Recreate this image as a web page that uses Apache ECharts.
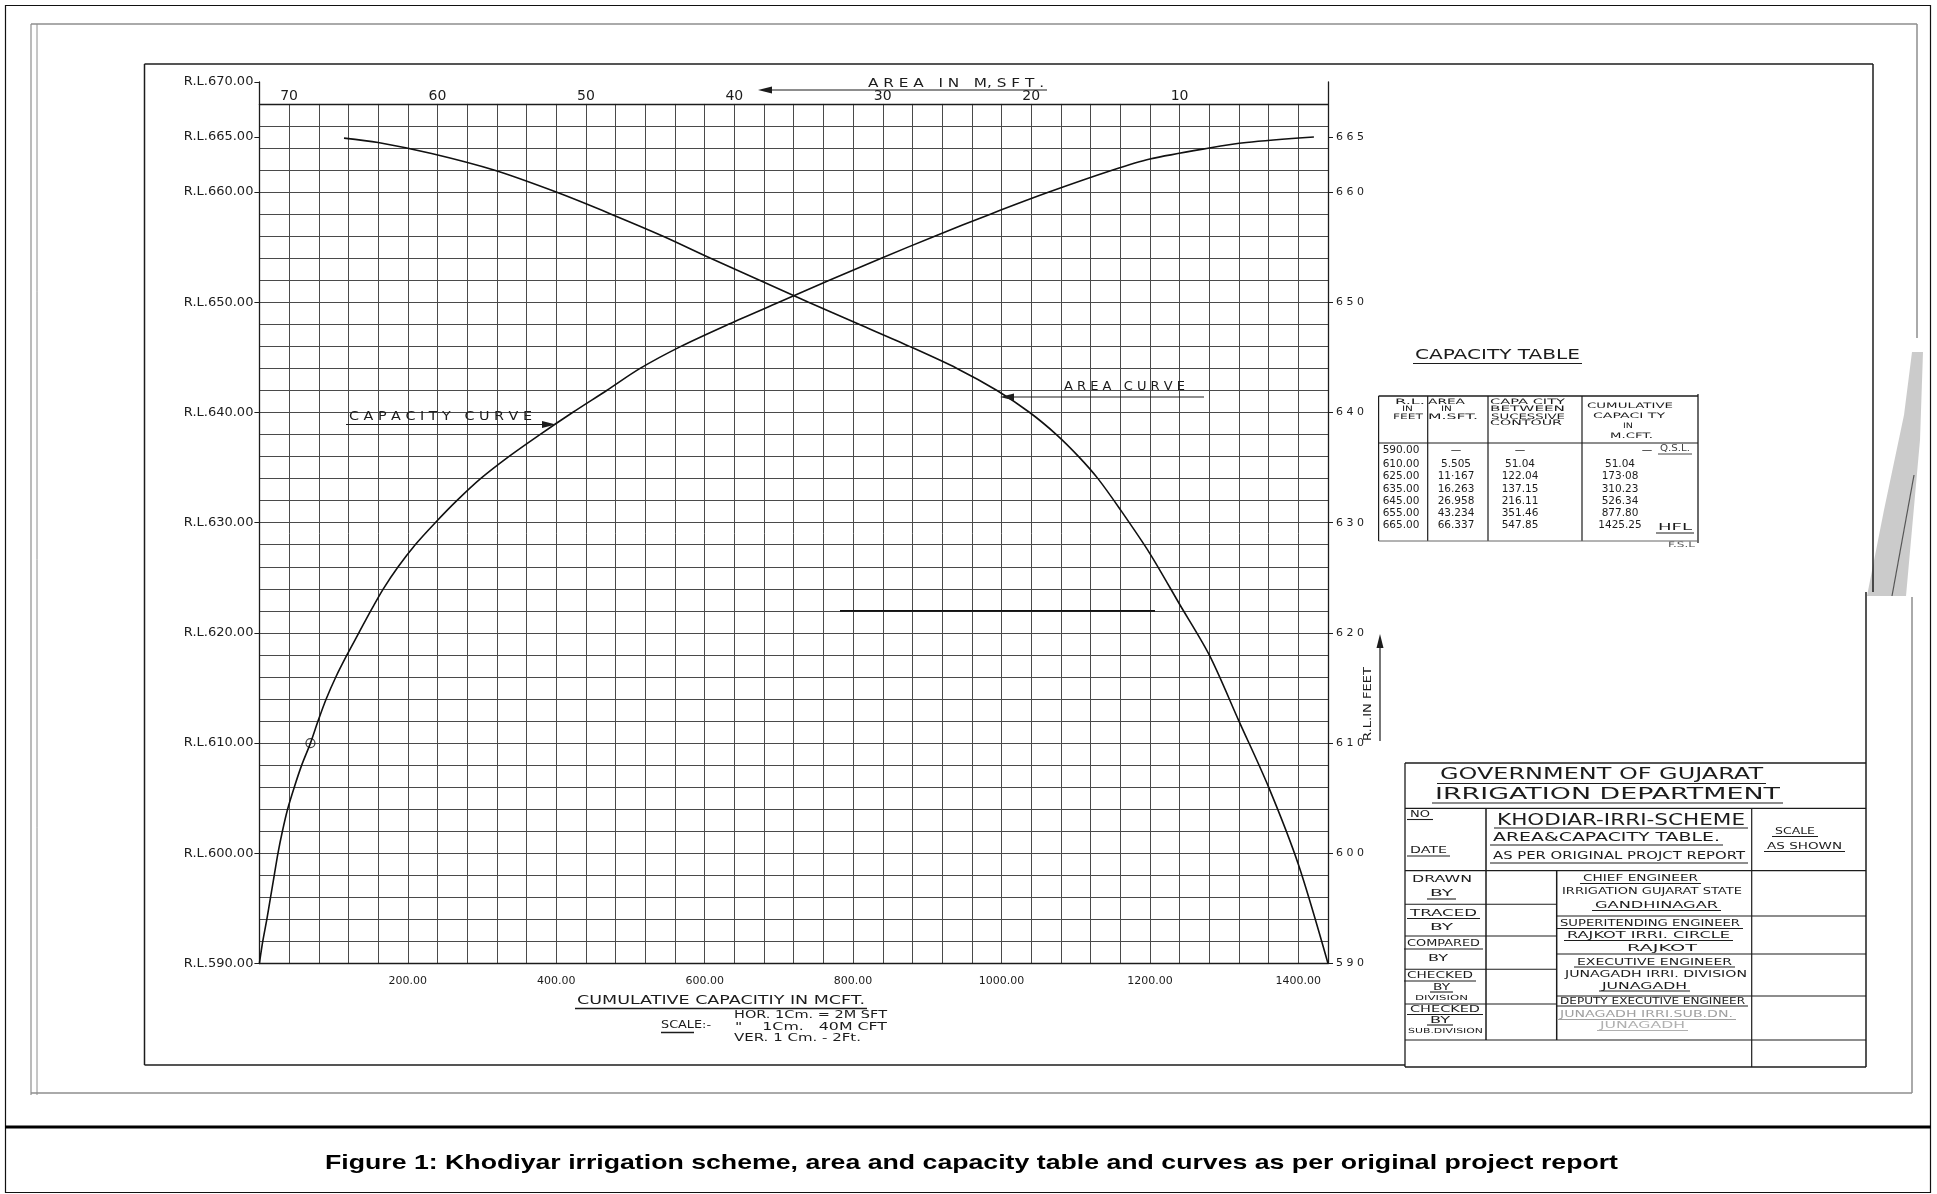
<!DOCTYPE html>
<html><head><meta charset="utf-8">
<script src="https://cdn.jsdelivr.net/npm/echarts@6/dist/echarts.min.js"></script>
<style>html,body{margin:0;padding:0;background:#fff}#c{width:1937px;height:1194px}</style>
</head><body><div id="c"></div>
<script>
// ---------- data ----------
const capacityRL   = [590, 592, 594, 596, 598, 600, 602, 604, 606, 608, 610, 612, 614, 616, 618, 620, 622, 624, 626, 628, 630, 632, 634, 636, 638, 640, 642, 644, 646, 648, 650, 652, 654, 656, 658, 660, 662, 663, 664, 664.5, 665];
const capacityMCFT = [0, 4.5, 10, 15, 20, 25, 31, 38, 47, 57, 68.8, 79, 90, 103, 118, 134, 150, 167, 187, 210, 237, 266, 298, 336, 378, 422, 468, 513, 568, 632, 700, 768, 838, 910, 985, 1064, 1150, 1200, 1280, 1330, 1421];
const areaRL   = [590, 599, 606, 612, 618, 622.6, 627.2, 631.2, 634, 636, 638, 640, 642, 644, 646, 648, 650, 652, 654, 656, 658, 660, 662, 663.5, 664.5, 664.9];
const areaMSFT = [0, 2, 4, 6, 8, 10, 12, 14, 15.5, 16.8, 18.3, 20.1, 22.3, 25, 28.2, 31.6, 35, 38.3, 41.6, 44.8, 48.3, 52, 56.2, 60.4, 64, 66.3];
const markedPoint = [68.8, 610];

const leftTickValues  = [590, 600, 610, 620, 630, 640, 650, 660, 665, 670];
const rightTickValues = [590, 600, 610, 620, 630, 640, 650, 660, 665];
const areaTickValues  = [10, 20, 30, 40, 50, 60, 70];
const capTickValues   = [200, 400, 600, 800, 1000, 1200, 1400];

const tableRL         = ['590.00', '610.00', '625.00', '635.00', '645.00', '655.00', '665.00'];
const tableArea       = ['—', '5.505', '11·167', '16.263', '26.958', '43.234', '66.337'];
const tableBetween    = ['—', '51.04', '122.04', '137.15', '216.11', '351.46', '547.85'];
const tableCumulative = ['—', '51.04', '173·08', '310.23', '526.34', '877.80', '1425.25'];

const caption = 'Figure 1: Khodiyar irrigation scheme, area and capacity table and curves as per original project report';

// ---------- layout ----------
const L = 259.4, R = 1328, B = 963.5;
const PER_FT = 11.02;
const TOP668 = B - 78 * PER_FT;
const TOP670 = B - 80 * PER_FT;
const INK = '#1c1c1c';
const FONT = '"DejaVu Sans", "Liberation Sans", sans-serif';

const mctx = document.createElement('canvas').getContext('2d');
function fontStr(size, weight, fam) { return (weight || 'normal') + ' ' + size + 'px ' + (fam || FONT); }
function fitText(x1, x2, y, str, size, o) {
  o = o || {};
  const f = fontStr(size, o.weight, o.fam);
  mctx.font = f;
  const w = mctx.measureText(str).width || 1;
  const s = (x2 - x1) / w;
  return { type: 'text', x: x1, y: y, scaleX: s, scaleY: 1, rotation: o.rotation || 0, silent: true, z: 10,
    style: { text: str, x: 0, y: 0, font: f, fill: o.color || INK, textAlign: 'left', align: 'left',
      textVerticalAlign: 'middle', verticalAlign: 'middle' } };
}
function cText(cx, y, str, size, o) {
  o = o || {};
  const f = fontStr(size, o.weight, o.fam);
  return { type: 'text', x: cx, y: y, silent: true, z: 10,
    style: { text: str, x: 0, y: 0, font: f, fill: o.color || INK, textAlign: 'center', align: 'center',
      textVerticalAlign: 'middle', verticalAlign: 'middle' } };
}
function ln(x1, y1, x2, y2, color, w) {
  return { type: 'line', silent: true, z: 9, shape: { x1: x1, y1: y1, x2: x2, y2: y2 },
    style: { stroke: color || INK, lineWidth: w || 1 } };
}
function poly(points, color, z) {
  return { type: 'polygon', silent: true, z: z || 9, shape: { points: points }, style: { fill: color || INK } };
}

const G = [];
// page frame & caption
G.push({ type: 'rect', silent: true, z: 9, shape: { x: 5.5, y: 5.5, width: 1925, height: 1187 }, style: { fill: 'none', stroke: '#111', lineWidth: 1.2 } });
G.push(ln(5, 1127, 1931, 1127, '#000', 3));
G.push(fitText(325, 1618, 1163, caption, 21, { weight: 'bold', fam: '"Liberation Sans", Arial, sans-serif', color: '#000' }));

// outer sheet (scan) lines
const GR = '#8e8e8e';
G.push(ln(31, 24, 1917, 24, GR, 1.5));
G.push(ln(31, 24, 31, 1095, GR, 1.2));
G.push(ln(37, 24, 37, 1095, GR, 1));
G.push(ln(31, 1093, 1912, 1093, GR, 1.5));
G.push(ln(1917, 24, 1917, 338, GR, 1.5));
G.push(ln(1912, 597, 1912, 1093, GR, 1.5));
G.push(poly([[1912, 352], [1923, 352], [1920, 440], [1906, 596], [1867, 596], [1884, 510], [1904, 415]], 'rgba(140,140,140,0.45)', 5));
G.push(ln(1914, 475, 1892, 596, '#555', 1.2));

// inner drawing frame
G.push(ln(144.5, 64, 1873, 64, INK, 1.5));
G.push(ln(144.5, 64, 144.5, 1065, INK, 1.5));
G.push(ln(144.5, 1065, 1405, 1065, INK, 1.5));
G.push(ln(1873, 64, 1873, 592, INK, 1.5));

// darker drafting line inside the grid
G.push(ln(840, B - 32 * PER_FT, 1155, B - 32 * PER_FT, '#111', 1.6));

// title block lines
G.push(ln(1405, 763, 1866, 763, INK, 1.3));
G.push(ln(1405, 763, 1405, 1067, INK, 1.3));
G.push(ln(1866, 592, 1866, 1067, INK, 1.5));
G.push(ln(1405, 1067, 1866, 1067, INK, 1.3));
G.push(ln(1405, 808.3, 1866, 808.3, INK, 1.2));
G.push(ln(1405, 870.7, 1866, 870.7, INK, 1.2));
G.push(ln(1486, 808.3, 1486, 1040, INK, 1.5));
G.push(ln(1751.7, 808.3, 1751.7, 1067, INK, 1.2));
G.push(ln(1556.7, 870.7, 1556.7, 1040, INK, 1.5));
[904.3, 936, 969.3, 1004].forEach(y => G.push(ln(1405, y, 1556.7, y, INK, 1.1)));
[916, 954, 996].forEach(y => G.push(ln(1556.7, y, 1866, y, INK, 1.1)));
G.push(ln(1405, 1040, 1866, 1040, INK, 1.2));

// title block texts: [x1, x2, y, text, size, underlineY, color]
const TB = [
  [1440, 1763, 775, 'GOVERNMENT OF GUJARAT', 15.5, 783.5],
  [1435, 1780, 794.5, 'IRRIGATION DEPARTMENT', 15.5, 803],
  [1410, 1430, 814.5, 'NO', 9.5, 819.5],
  [1497, 1745, 820.5, 'KHODIAR-IRRI-SCHEME', 15.5, 828],
  [1493, 1720, 838.5, 'AREA&CAPACITY TABLE.', 11.5, 845],
  [1493, 1745, 856.5, 'AS PER ORIGINAL PROJCT REPORT', 10, 863],
  [1410, 1447, 851, 'DATE', 9.5, 856],
  [1775, 1815, 831.5, 'SCALE', 9.5, 836.5],
  [1767, 1842, 846.5, 'AS SHOWN', 9.5, 851.5],
  [1412, 1472, 880, 'DRAWN', 9.5],
  [1430, 1453, 893.5, 'BY', 9.5, 899],
  [1410, 1477, 913.5, 'TRACED', 9.5, 918.5],
  [1430, 1453, 927.5, 'BY', 9.5],
  [1407, 1480, 944, 'COMPARED', 9.5, 949],
  [1428, 1448, 958.5, 'BY', 9.5],
  [1407, 1473, 976, 'CHECKED', 9.5, 981],
  [1433, 1450, 987.5, 'BY', 9.5, 992],
  [1415, 1468, 998.5, 'DIVISION', 7],
  [1410, 1480, 1009.5, 'CHECKED', 9.5, 1014.5],
  [1430, 1450, 1020.5, 'BY', 9.5, 1025],
  [1408, 1483, 1031.5, 'SUB.DIVISION', 7],
  [1583, 1698, 879, 'CHIEF ENGINEER', 8.5, 883.5],
  [1562, 1742, 891.5, 'IRRIGATION GUJARAT STATE', 8.5],
  [1595, 1718, 905.5, 'GANDHINAGAR', 9, 910.5],
  [1560, 1740, 923.5, 'SUPERITENDING ENGINEER', 8.5, 928.5],
  [1567, 1730, 936, 'RAJKOT IRRI. CIRCLE', 8.5, 940.5],
  [1627, 1697, 948.5, 'RAJKOT', 8.5],
  [1577, 1732, 962.5, 'EXECUTIVE ENGINEER', 8.5, 967],
  [1565, 1747, 974.5, 'JUNAGADH IRRI. DIVISION', 8.5],
  [1602, 1687, 986.5, 'JUNAGADH', 8.5, 991],
  [1560, 1745, 1001.5, 'DEPUTY EXECUTIVE ENGINEER', 8.5, 1006],
  [1560, 1733, 1015, 'JUNAGADH IRRI.SUB.DN.', 8.5, 1019.5, '#a0a0a0'],
  [1600, 1685, 1026, 'JUNAGADH', 8.5, 1030.5, '#b0b0b0']
];
TB.forEach(t => {
  G.push(fitText(t[0], t[1], t[2], t[3], t[4], { color: t[6] }));
  if (t[5]) G.push(ln(t[0] - 3, t[5], t[1] + 3, t[5], t[6] || INK, 1.1));
});

// capacity table
G.push(fitText(1415, 1580, 355, 'CAPACITY TABLE', 13.5));
G.push(ln(1413, 363.5, 1582, 363.5, INK, 1.2));
const TX0 = 1378.6, TX1 = 1427.7, TX2 = 1488, TX3 = 1582, TX4 = 1698, TY0 = 396, TYH = 443, TY1 = 541;
G.push(ln(TX0, TY0, TX4, TY0, INK, 1.3));
G.push(ln(TX0, TY0, TX0, TY1, INK, 1.2));
G.push(ln(TX4, TY0 - 2, TX4, TY1 + 2, INK, 1.3));
[TX1, TX2, TX3].forEach(x => G.push(ln(x, TY0, x, TY1, INK, 1.2)));
G.push(ln(TX0, TYH, TX4, TYH, INK, 1.1));
G.push(ln(TX0, TY1, TX4, TY1, '#666', 1));
// headers: [x1, x2, y, text]
const TH = [
  [1395, 1425, 401.7, 'R.L.'], [1402, 1413, 409.5, 'IN'], [1393, 1423, 417.3, 'FEET'],
  [1428, 1465, 401.7, 'AREA'], [1441, 1452, 409.5, 'IN'], [1428, 1478, 417.3, 'M.SFT.'],
  [1490, 1565, 401.7, 'CAPA CITY'], [1490, 1565, 409.3, 'BETWEEN'], [1491, 1565, 416.8, 'SUCESSIVE'], [1490, 1562, 423.5, 'CONTOUR'],
  [1587, 1673, 406, 'CUMULATIVE'], [1593, 1665, 416, 'CAPACI TY'], [1623, 1633, 426.5, 'IN'], [1610, 1653, 436, 'M.CFT.']
];
TH.forEach(t => G.push(fitText(t[0], t[1], t[2], t[3], 7.5)));
const rowY = [450.7, 464.3, 476.7, 489.3, 501.7, 513.3, 525];
tableRL.forEach((v, i) => G.push(cText(1401, rowY[i], v, 10.5)));
tableArea.forEach((v, i) => G.push(cText(1456, rowY[i], v, 10.5)));
tableBetween.forEach((v, i) => G.push(cText(1520, rowY[i], v, 10.5)));
tableCumulative.forEach((v, i) => G.push(cText(i === 0 ? 1647 : 1620, rowY[i], v, 10.5)));
G.push(fitText(1660, 1690, 449, 'Q.S.L.', 8.5, { color: '#444' }));
G.push(ln(1658, 454, 1692, 454, '#444', 1));
G.push(fitText(1658, 1692, 528, 'HFL', 9));
G.push(ln(1656, 533, 1694, 533, INK, 1));
G.push(fitText(1668, 1695, 545, 'F.S.L', 7.5, { color: '#555' }));

// plot annotations
G.push(fitText(868, 1044, 84, 'A R E A   I N   M, S F T .', 11.5));
G.push(ln(762, 90, 1047, 90, INK, 1.2));
G.push(poly([[758, 90], [772, 86.5], [772, 93.5]]));
G.push(fitText(349, 532, 417, 'C A P A C I T Y   C U R V E', 11.5));
G.push(ln(346, 424.5, 545, 424.5, INK, 1.2));
G.push(poly([[556, 424.5], [542, 421], [542, 428]]));
G.push(fitText(1064, 1185, 387, 'A R E A   C U R V E', 11.5));
G.push(ln(1010, 397, 1204, 397, INK, 1.2));
G.push(poly([[1000, 397], [1014, 393.5], [1014, 400.5]]));
G.push(fitText(577, 865, 1000.6, 'CUMULATIVE CAPACITIY IN MCFT.', 12.5));
G.push(ln(575, 1008.5, 867, 1008.5, INK, 1.6));
G.push(fitText(661, 711, 1025.3, 'SCALE:-', 10.5));
G.push(ln(661, 1032.5, 694, 1032.5, INK, 1.3));
G.push(fitText(734, 887, 1015.4, 'HOR. 1Cm. = 2M SFT', 10));
G.push(fitText(735, 887, 1027.8, '"    1Cm.   40M CFT', 10));
G.push(fitText(734, 861, 1038.9, 'VER. 1 Cm. - 2Ft.', 10));
(function () {
  const f = fontStr(11);
  mctx.font = f;
  const s = 74 / (mctx.measureText('R.L.IN FEET').width || 1);
  G.push({ type: 'text', x: 1368, y: 741, rotation: Math.PI / 2, scaleX: s, scaleY: 1, silent: true, z: 10,
    style: { text: 'R.L.IN FEET', x: 0, y: 0, font: f, fill: INK, textAlign: 'left', align: 'left',
      textVerticalAlign: 'middle', verticalAlign: 'middle' } });
})();
G.push(ln(1380, 741, 1380, 646, INK, 1.2));
G.push(poly([[1380, 634], [1376.5, 648], [1383.5, 648]]));

// ---------- chart ----------
const chart = echarts.init(document.getElementById('c'), null, { renderer: 'canvas', width: 1937, height: 1194 });
const axisInk = { color: INK, width: 1.3 };
const gridLine = { color: '#4a4a4a', width: 1 };
chart.setOption({
  animation: false,
  backgroundColor: '#ffffff',
  grid: [
    { left: L, top: TOP668, width: R - L, height: B - TOP668, outerBoundsMode: 'none', containLabel: false },
    { left: L, top: TOP670, width: R - L, height: B - TOP670, outerBoundsMode: 'none', containLabel: false }
  ],
  xAxis: [
    { gridIndex: 0, type: 'value', min: 0, max: 1440, interval: 40, position: 'bottom',
      axisLine: { show: true, lineStyle: axisInk }, axisTick: { show: false }, axisLabel: { show: false },
      splitLine: { show: true, lineStyle: gridLine } },
    { gridIndex: 0, type: 'value', min: 0, max: 72, interval: 10, inverse: true, position: 'top',
      axisLine: { show: true, lineStyle: axisInk }, axisTick: { show: false },
      axisLabel: { show: true, margin: 1, fontSize: 14, fontFamily: FONT, color: INK, showMinLabel: true, showMaxLabel: true,
        customValues: areaTickValues,
        formatter: v => areaTickValues.indexOf(v) >= 0 ? String(v) : '' },
      splitLine: { show: false } },
    { gridIndex: 1, type: 'value', min: 0, max: 1440, interval: 200, position: 'bottom',
      axisLine: { show: false }, axisTick: { show: false },
      axisLabel: { show: true, margin: 12, fontSize: 11, fontFamily: FONT, color: INK,
        customValues: capTickValues,
        formatter: v => capTickValues.indexOf(v) >= 0 ? v.toFixed(2) : '' },
      splitLine: { show: false } }
  ],
  yAxis: [
    { gridIndex: 0, type: 'value', min: 590, max: 668, interval: 2,
      axisLine: { show: false }, axisTick: { show: false }, axisLabel: { show: false },
      splitLine: { show: true, lineStyle: gridLine } },
    { gridIndex: 1, type: 'value', min: 590, max: 670, interval: 5, position: 'left',
      axisLine: { show: true, lineStyle: axisInk },
      axisTick: { show: true, length: 5, inside: false, customValues: leftTickValues, lineStyle: { color: INK } },
      axisLabel: { show: true, margin: 6, fontSize: 13, fontFamily: FONT, color: INK, showMinLabel: true, showMaxLabel: true,
        customValues: leftTickValues,
        formatter: v => leftTickValues.indexOf(v) >= 0 ? 'R.L.' + v.toFixed(2) : '' },
      splitLine: { show: false } },
    { gridIndex: 1, type: 'value', min: 590, max: 670, interval: 5, position: 'right',
      axisLine: { show: true, lineStyle: axisInk },
      axisTick: { show: true, length: 5, inside: false, customValues: rightTickValues, lineStyle: { color: INK } },
      axisLabel: { show: true, margin: 8, fontSize: 11, fontFamily: FONT, color: INK,
        customValues: rightTickValues,
        formatter: v => rightTickValues.indexOf(v) >= 0 ? String(v).split('').join(' ') : '' },
      splitLine: { show: false } }
  ],
  series: [
    { name: 'Capacity curve', type: 'line', xAxisIndex: 0, yAxisIndex: 0, silent: true,
      data: capacityMCFT.map((c, i) => [c, capacityRL[i]]), smooth: 0.3, symbol: 'none',
      lineStyle: { color: '#111', width: 1.6 } },
    { name: 'Area curve', type: 'line', xAxisIndex: 1, yAxisIndex: 0, silent: true,
      data: areaMSFT.map((a, i) => [a, areaRL[i]]), smooth: 0.3, symbol: 'none',
      lineStyle: { color: '#111', width: 1.6 } },
    { name: 'Marked point', type: 'scatter', xAxisIndex: 0, yAxisIndex: 0, silent: true,
      data: [markedPoint], symbol: 'circle', symbolSize: 9,
      itemStyle: { color: 'rgba(0,0,0,0)', borderColor: '#111', borderWidth: 1.2 } }
  ],
  graphic: { elements: G }
});
</script>
</body></html>
